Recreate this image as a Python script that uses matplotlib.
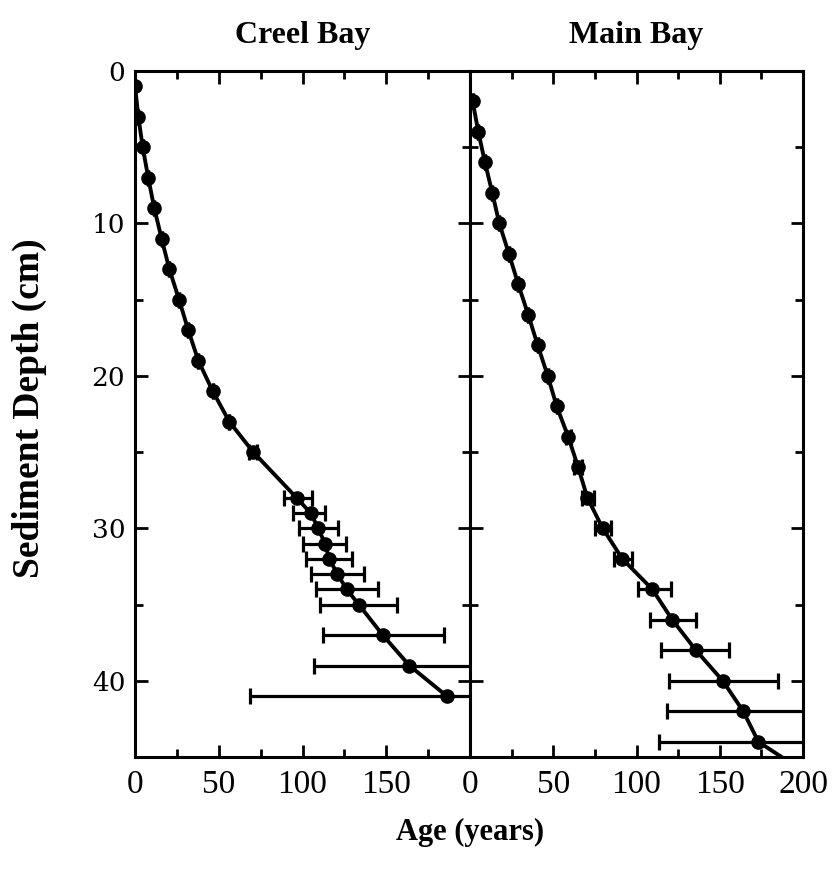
import matplotlib
matplotlib.use("Agg")
import matplotlib.pyplot as plt
from matplotlib.ticker import MultipleLocator

# Creel Bay
creel_depth = [1, 3, 5, 7, 9, 11, 13, 15, 17, 19, 21, 23, 25,
               28, 29, 30, 31, 32, 33, 34, 35, 37, 39, 41]
creel_age = [0, 2, 4.6, 7.9, 11.5, 15.9, 20.5, 26.3, 31.8, 37.8, 46.4, 56.3, 70.6,
             96.5, 104.9, 109.4, 113.4, 116, 120.8, 126.4, 133.6, 147.9, 163.8, 186.1]
creel_err_lo = [0, 0, 0, 0, 0, 0, 0, 0, 0, 0, 0, 0, 2.5,
                7.3, 10.4, 11.5, 12.9, 14.1, 15.7, 18.5, 23.2, 35.5, 56.8, 117.4]
creel_err_hi = [0, 0, 0, 0, 0, 0, 0, 0, 0, 0, 0, 0, 2.5,
                9.4, 8.5, 12.0, 12.4, 13.4, 15.9, 18.9, 23.0, 36.8, 60.0, 120.0]

# Main Bay
main_depth = [2, 4, 6, 8, 10, 12, 14, 16, 18, 20, 22, 24, 26, 28, 30, 32,
              34, 36, 38, 40, 42, 44, 46]
main_age = [1.6, 5, 9, 13.4, 17.6, 23.4, 29, 35, 40.7, 46.7, 52.1, 59, 65, 70.5,
            79.7, 91.5, 109.5, 121.5, 135.7, 151.8, 164.1, 173.2, 201]
main_err_lo = [0, 0, 0, 0, 0, 0, 0, 0, 0, 0, 0, 1.5, 2.5, 3.2, 4.5, 5.0,
               8.5, 13.5, 20.7, 32.0, 46.0, 59.7, 0]
main_err_hi = [0, 0, 0, 0, 0, 0, 0, 0, 0, 0, 0, 1.5, 2.5, 4.0, 5.0, 6.0,
               11.0, 14.5, 19.9, 33.0, 48.0, 62.0, 0]

W, H = 834, 877
SERIF = "Liberation Serif"

fig = plt.figure(figsize=(W / 100, H / 100), dpi=100)
bottom = 1 - 757 / H
height = (757 - 71) / H
ax1 = fig.add_axes([135 / W, bottom, 335 / W, height])
ax2 = fig.add_axes([470 / W, bottom, 333 / W, height])


def draw(ax, depth, age, lo, hi):
    ax.errorbar(age, depth, xerr=[lo, hi], fmt="none", ecolor="black",
                elinewidth=2.3, capsize=5.5, capthick=2.3, zorder=2)
    ax.plot(age, depth, color="black", linewidth=2.8, marker="o",
            markersize=9.5, zorder=3)
    ax.set_xlim(0, 200)
    ax.set_ylim(45, 0)
    ax.xaxis.set_major_locator(MultipleLocator(50))
    ax.xaxis.set_minor_locator(MultipleLocator(25))
    ax.yaxis.set_major_locator(MultipleLocator(10))
    ax.yaxis.set_minor_locator(MultipleLocator(5))
    ax.tick_params(which="both", direction="in", top=True, right=True,
                   width=2, color="black")
    ax.tick_params(which="major", length=9)
    ax.tick_params(which="minor", length=6)
    ax.tick_params(axis="x", pad=9)
    for s in ax.spines.values():
        s.set_linewidth(2.2)


draw(ax1, creel_depth, creel_age, creel_err_lo, creel_err_hi)
draw(ax2, main_depth, main_age, main_err_lo, main_err_hi)

ax1.set_xticks([0, 50, 100, 150, 200])
ax1.set_xticklabels(["0", "50", "100", "150", ""], fontfamily=SERIF, fontsize=24)
ax2.set_xticks([0, 50, 100, 150, 200])
ax2.set_xticklabels(["0", "50", "100", "150", "200"], fontfamily=SERIF, fontsize=24)

ax1.set_yticks([0, 10, 20, 30, 40])
ax1.set_yticklabels(["0", "10", "20", "30", "40"], fontfamily="DejaVu Serif", fontsize=19)
ax1.tick_params(axis="y", pad=7)
ax2.tick_params(axis="y", labelleft=False)

fig.text(303 / W, 1 - 35 / H, "Creel Bay", ha="center", va="center",
         fontsize=23, fontweight="bold", fontfamily=SERIF)
fig.text(636 / W, 1 - 35 / H, "Main Bay", ha="center", va="center",
         fontsize=23, fontweight="bold", fontfamily=SERIF)
fig.text(470 / W, 1 - 832 / H, "Age (years)", ha="center", va="center",
         fontsize=22, fontweight="bold", fontfamily=SERIF)
fig.text(29 / W, 1 - 408 / H, "Sediment Depth (cm)", ha="center", va="center",
         rotation=90, fontsize=27, fontweight="bold", fontfamily=SERIF)

fig.savefig("out.png", dpi=100)
